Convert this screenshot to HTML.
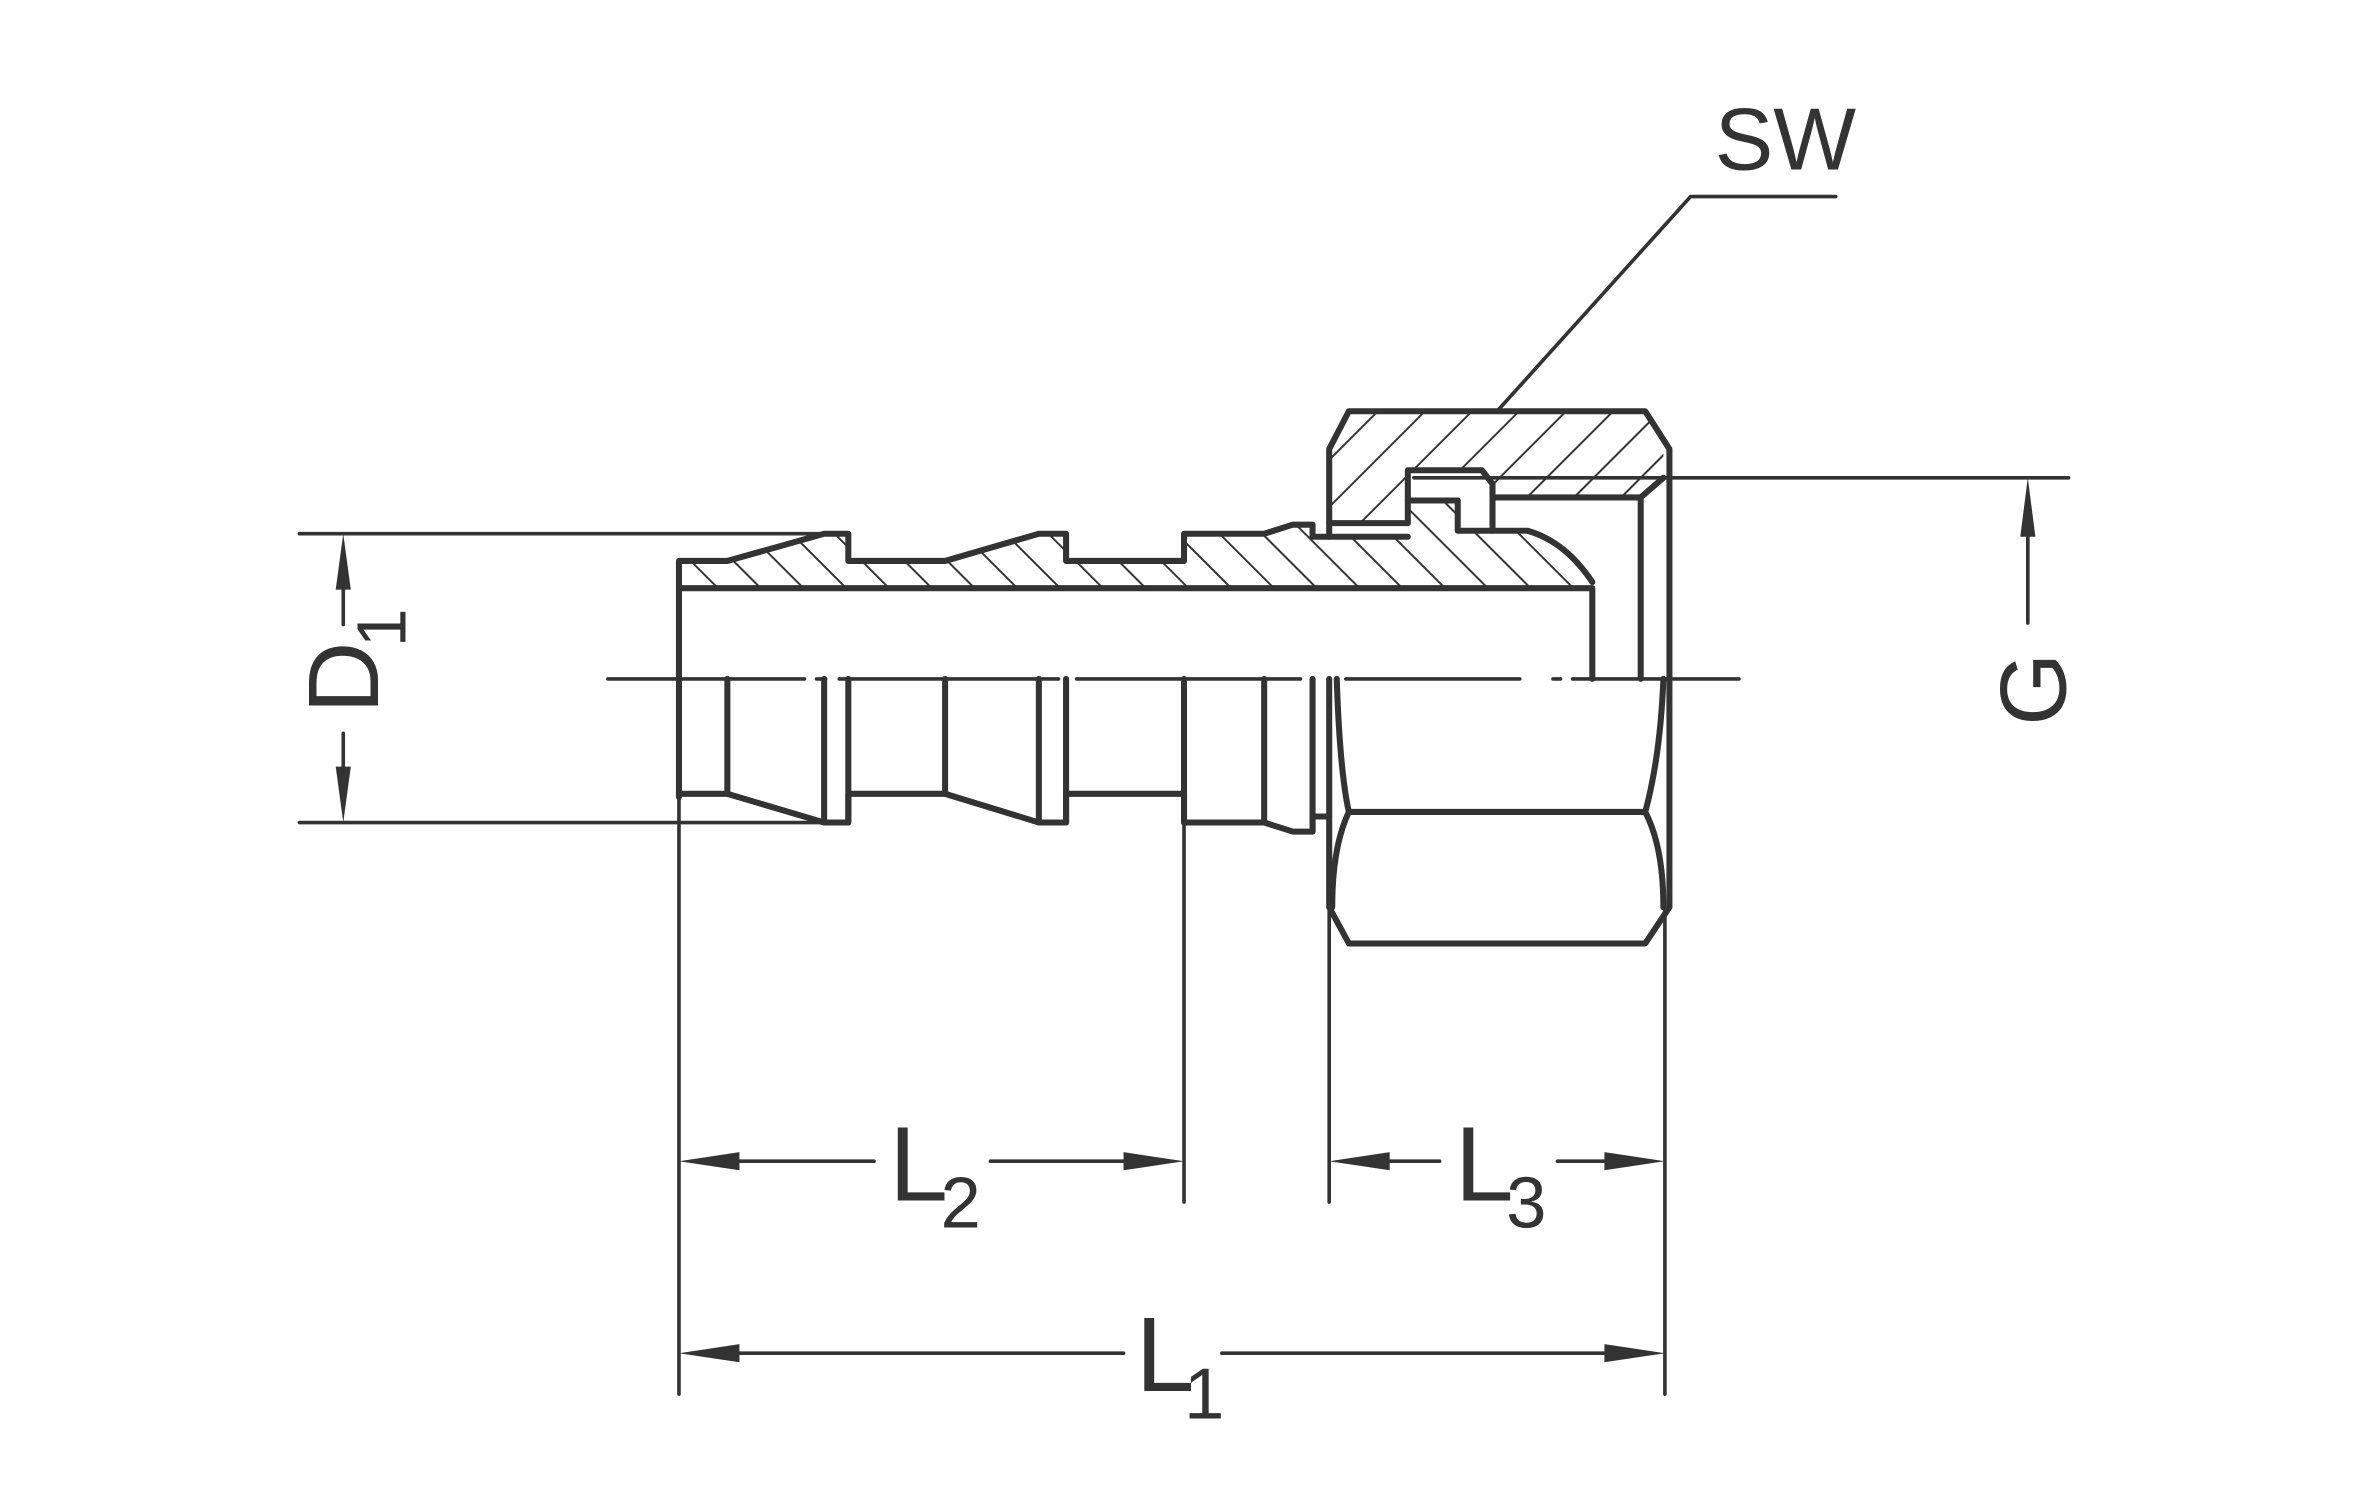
<!DOCTYPE html>
<html><head><style>html,body{margin:0;padding:0;background:#fff}svg{display:block}</style></head>
<body>
<svg width="2362" height="1512" viewBox="0 0 1562 1000" preserveAspectRatio="none" xmlns="http://www.w3.org/2000/svg">
<defs>
<pattern id="hb" patternUnits="userSpaceOnUse" width="20" height="20" patternTransform="rotate(-45)"><line x1="0" y1="0" x2="0" y2="20" stroke="#333" stroke-width="2.6"/></pattern>
<pattern id="hf" patternUnits="userSpaceOnUse" width="22" height="22" patternTransform="rotate(45)"><line x1="0" y1="0" x2="0" y2="22" stroke="#333" stroke-width="2.6"/></pattern>
</defs>
<g fill="none" stroke="#333" stroke-linejoin="round" stroke-linecap="round">
<path d="M449,371 L481,371 L545,353 L561,353 L561,371 L625,371 L687,353 L705,353 L705,371 L783,371 L783,353 L836,353 L855,347 L868,347 L868,355 L931,355 L931,331 L964,331 L964,351 L1010,351 Q1035,358 1053,385 L1053,389 L449,389 Z" fill="url(#hb)" stroke="none"/>
<path d="M892,272 L1088,272 L1100,290 L1100,316 L1085,329 L987,329 L987,316 L980,311 L931,311 L931,346 L879,346 L879,297 Z" fill="url(#hf)" stroke="none"/>
<g stroke-width="4">
<path d="M449,527 L449,371 L481,371 L545,353 L561,353 L561,371 L625,371 L687,353 L705,353 L705,371 L783,371 L783,353 L836,353 L855,347 L868,347 L868,355 L931,355"/>
<path d="M449,389 L1053,389 L1053,449"/>
<path d="M964,331 L964,351 L1010,351 Q1035,358 1053,385"/>
<path d="M449,525 L481,525 L545,544 L561,544 L561,525 L625,525 L687,544 L705,544 L705,525 L783,525 L783,544 L836,544 L855,550 L868,550 L868,540 L879,540"/>
<path d="M481,449 V525 M545,449 V544 M561,449 V544 M625,449 V525 M687,449 V544 M705,449 V544 M783,449 V544 M836,449 V544 M868,449 V550"/>
<path d="M879,355 L879,297 L892,272 L1088,272 L1104,297 L1104,600 L1088,624 L892,624 L879,600 L879,449"/>
<path d="M879,346 L931,346 L931,311 L980,311 L987,320 L987,351"/>
<path d="M931,331 L964,331"/>
<path d="M987,329 L1085,329 L1085,449 M1085,329 L1100,316"/>
<path d="M892,537 L1088,537"/>
<path d="M884,449 Q886,510 892,537 Q881,560 881,600"/>
<path d="M1100,449 Q1098,500 1088,537 Q1100,560 1100,600"/>
</g>
<g stroke-width="2.4">
<path d="M402,449 H532 M540,449 H546 M555,449 H700 M712,449 H860 M890,449 H1005 M1027,449 H1032 M1040,449 H1150"/>
<path d="M198,353 H545 M198,544 H545"/>
<path d="M227,390 V413 M227,485 V510"/>
<path d="M449,525 V922 M783,544 V795 M879,540 V795 M1101,600 V922"/>
<path d="M935,316 H1368 M1341,355 V412"/>
<path d="M990,272 L1118,130 H1214"/>
<path d="M487,768 H578 M655,768 H745 M917,768 H952 M1030,768 H1064 M487,895 H743 M808,895 H1064"/>
</g>
<g fill="#333" stroke="none">
<polygon points="227,353 222,390 232,390"/>
<polygon points="227,544 222,507 232,507"/>
<polygon points="1341,316 1336,355 1346,355"/>
<polygon points="449,768 489,762 489,774"/>
<polygon points="783,768 743,762 743,774"/>
<polygon points="879,768 919,762 919,774"/>
<polygon points="1101,768 1061,762 1061,774"/>
<polygon points="449,895 489,889 489,901"/>
<polygon points="1101,895 1061,889 1061,901"/>
</g>
</g>
<g fill="#333" font-family="Liberation Sans, sans-serif">
<text x="588" y="794" font-size="70">L</text><text x="622" y="812" font-size="48">2</text>
<text x="962" y="794" font-size="70">L</text><text x="996" y="812" font-size="48">3</text>
<text x="751" y="920" font-size="70">L</text><text x="783" y="938" font-size="48">1</text>
<text x="1134" y="112" font-size="58">SW</text>
<text transform="translate(250,472) rotate(-90)" font-size="66">D</text>
<text transform="translate(268,428) rotate(-90)" font-size="46">1</text>
<text transform="translate(1366,480) rotate(-90)" font-size="62">G</text>
</g>
</svg>
</body></html>
